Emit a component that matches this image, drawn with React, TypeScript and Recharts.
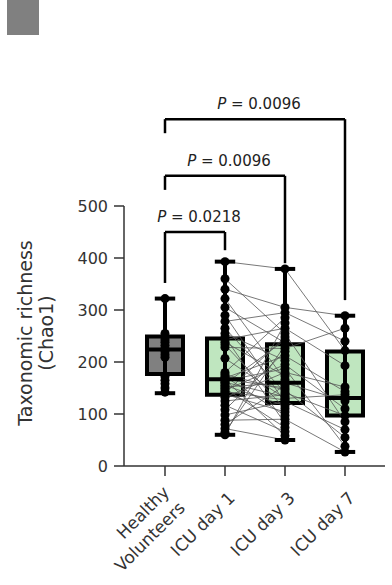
import {
  ComposedChart,
  ReferenceArea,
  ReferenceLine,
  Scatter,
  XAxis,
  YAxis,
} from "recharts";

const categories = ["Healthy\nVolunteers", "ICU day 1", "ICU day 3", "ICU day 7"];
const yTicks = [0, 100, 200, 300, 400, 500];

// box statistics (whisker min/max, quartiles, median)
const boxMin = [140, 60, 50, 27];
const boxQ1 = [177, 137, 121, 97];
const boxMedian = [224, 167, 160, 131];
const boxQ3 = [249, 245, 234, 220];
const boxMax = [322, 393, 379, 289];

const healthy = [322, 255, 248, 243, 238, 232, 226, 220, 214, 209, 172, 165, 158, 150, 142];

// paired ICU patients, same index = same patient
const icuDay1 = [
  393, 360, 340, 322, 305, 290, 278, 265, 255, 248, 243, 238, 233, 228, 207, 180, 176, 172, 169,
  167, 166, 164, 161, 158, 155, 152, 149, 146, 143, 140, 138, 132, 125, 117, 108, 98, 88, 80, 72,
  65, 60,
];
const icuDay3 = [
  379, 255, 305, 166, 237, 122, 295, 141, 203, 82, 265, 173, 110, 226, 130, 285, 146, 97, 212, 150,
  58, 187, 133, 242, 116, 160, 74, 195, 127, 248, 104, 180, 137, 66, 220, 124, 90, 155, 50, 232,
  275,
];
const icuDay7: (number | null)[] = [
  222, 85, 289, null, null, null, 240, 97, null, null, 193, null, null, 265, 137, null, 55, null,
  143, null, null, 38, null, null, null, 125, null, 110, null, null, null, 152, null, null, null,
  70, 27, null, null, null, null,
];

const comparisons = [
  { from: 1, to: 2, p: "0.0218" },
  { from: 1, to: 3, p: "0.0096" },
  { from: 1, to: 4, p: "0.0096" },
];

// bracket geometry in y units
const bracketLayout = [
  { top: 450, leftEnd: 352, rightEnd: 415 },
  { top: 558, leftEnd: 531, rightEnd: 390 },
  { top: 667, leftEnd: 640, rightEnd: 319 },
];

const FONT = "'DejaVu Sans', sans-serif";
const X_MIN = 0.3167;
const X_MAX = 4.6667;
const HALF_BOX = 0.3;
const HALF_CAP = 0.17;
const GREEN = "#bfe6bf";

const groups = [healthy, icuDay1, icuDay3, icuDay7.filter((v) => v !== null) as number[]];

function Dot(props: any) {
  return <circle cx={props.cx} cy={props.cy} r={4.5} fill="#000" />;
}

function PLabel(props: any) {
  return (
    <text
      x={props.cx + 4}
      y={props.cy - 10}
      textAnchor="middle"
      fontSize={15}
      fill="#222"
      fontFamily={FONT}
    >
      <tspan fontStyle="italic">P</tspan> = {props.payload.p}
    </text>
  );
}

function CategoryTick(props: any) {
  const { x, payload } = props;
  const lines = categories[payload.value - 1].split("\n");
  return (
    <g transform={`translate(${x + 11},${466 + 33})`}>
      <text transform="rotate(-45)" textAnchor="end" fontSize={17} fill="#333" fontFamily={FONT}>
        {lines.map((l, i) => (
          <tspan key={l} x={0} dy={lines.length > 1 ? (i === 0 ? -8 : 22) : 0}>
            {l}
          </tspan>
        ))}
      </text>
    </g>
  );
}

function YLabel() {
  return (
    <g fontFamily={FONT} fontSize={19} fill="#333">
      <text transform="translate(25,333) rotate(-90)" textAnchor="middle" dominantBaseline="central">
        Taxonomic richness
      </text>
      <text transform="translate(46,333) rotate(-90)" textAnchor="middle" dominantBaseline="central">
        (Chao1)
      </text>
    </g>
  );
}

export default function App() {
  const pLabels = comparisons.map((c, i) => ({
    x: (c.from + c.to) / 2,
    y: bracketLayout[i].top,
    p: c.p,
  }));

  return (
    <div style={{ position: "absolute", left: 0, top: 0, width: 392, height: 585 }}>
      <div
        style={{ position: "absolute", left: 7, top: 0, width: 32, height: 35, background: "#808080" }}
      />
      <ComposedChart
        width={392}
        height={585}
        margin={{ top: 102, right: 7, bottom: 0, left: 0 }}
        style={{ position: "absolute", left: 0, top: 0 }}
      >
        <XAxis
          type="number"
          dataKey="x"
          domain={[X_MIN, X_MAX]}
          ticks={[1, 2, 3, 4]}
          height={119}
          tickSize={10}
          axisLine={{ stroke: "#333", strokeWidth: 1.5 }}
          tickLine={{ stroke: "#333", strokeWidth: 1.5 }}
          tick={<CategoryTick />}
          interval={0}
        />
        <YAxis
          type="number"
          dataKey="y"
          domain={[0, 700]}
          ticks={yTicks}
          width={124}
          tickSize={10}
          tickMargin={6}
          axisLine={false}
          tickLine={{ stroke: "#333", strokeWidth: 1.5 }}
          tick={{ fontSize: 16, fill: "#333", fontFamily: FONT }}
          label={{ content: <YLabel /> }}
        />

        <ReferenceLine
          segment={[
            { x: X_MIN, y: 0 },
            { x: X_MIN, y: 500 },
          ]}
          stroke="#333"
          strokeWidth={1.5}
          ifOverflow="visible"
        />

        {categories.map((_, i) => (
          <ReferenceArea
            key={`box-${i}`}
            x1={i + 1 - HALF_BOX}
            x2={i + 1 + HALF_BOX}
            y1={boxQ1[i]}
            y2={boxQ3[i]}
            fill={i === 0 ? "#808080" : GREEN}
            fillOpacity={1}
            stroke="#000"
            strokeWidth={4}
            ifOverflow="visible"
          />
        ))}

        {icuDay1.map((v, i) => (
          <ReferenceLine
            key={`p13-${i}`}
            segment={[
              { x: 2, y: v },
              { x: 3, y: icuDay3[i] },
            ]}
            stroke="#555"
            strokeWidth={0.8}
            ifOverflow="visible"
          />
        ))}
        {icuDay3.map((v, i) =>
          icuDay7[i] === null ? null : (
            <ReferenceLine
              key={`p37-${i}`}
              segment={[
                { x: 3, y: v },
                { x: 4, y: icuDay7[i] as number },
              ]}
              stroke="#555"
              strokeWidth={0.8}
              ifOverflow="visible"
            />
          )
        )}

        {categories.map((_, i) => (
          <ReferenceLine
            key={`med-${i}`}
            segment={[
              { x: i + 1 - HALF_BOX, y: boxMedian[i] },
              { x: i + 1 + HALF_BOX, y: boxMedian[i] },
            ]}
            stroke="#000"
            strokeWidth={4}
            ifOverflow="visible"
          />
        ))}
        {categories.map((_, i) => (
          <ReferenceLine
            key={`wh-${i}`}
            segment={[
              { x: i + 1, y: boxMin[i] },
              { x: i + 1, y: boxMax[i] },
            ]}
            stroke="#000"
            strokeWidth={4}
            ifOverflow="visible"
          />
        ))}
        {categories.map((_, i) =>
          [boxMin[i], boxMax[i]].map((v, j) => (
            <ReferenceLine
              key={`cap-${i}-${j}`}
              segment={[
                { x: i + 1 - HALF_CAP, y: v },
                { x: i + 1 + HALF_CAP, y: v },
              ]}
              stroke="#000"
              strokeWidth={4}
              ifOverflow="visible"
            />
          ))
        )}

        {comparisons.map((c, i) => {
          const b = bracketLayout[i];
          return [
            <ReferenceLine
              key={`bl-${i}`}
              segment={[
                { x: c.from, y: b.leftEnd },
                { x: c.from, y: b.top },
              ]}
              stroke="#000"
              strokeWidth={2.5}
              ifOverflow="visible"
            />,
            <ReferenceLine
              key={`bt-${i}`}
              segment={[
                { x: c.from, y: b.top },
                { x: c.to, y: b.top },
              ]}
              stroke="#000"
              strokeWidth={2.5}
              ifOverflow="visible"
            />,
            <ReferenceLine
              key={`br-${i}`}
              segment={[
                { x: c.to, y: b.top },
                { x: c.to, y: b.rightEnd },
              ]}
              stroke="#000"
              strokeWidth={2.5}
              ifOverflow="visible"
            />,
          ];
        })}

        {groups.map((g, i) => (
          <Scatter
            key={`pts-${i}`}
            data={g.map((v) => ({ x: i + 1, y: v }))}
            shape={<Dot />}
            isAnimationActive={false}
          />
        ))}
        <Scatter data={pLabels} shape={<PLabel />} isAnimationActive={false} />
      </ComposedChart>
    </div>
  );
}
